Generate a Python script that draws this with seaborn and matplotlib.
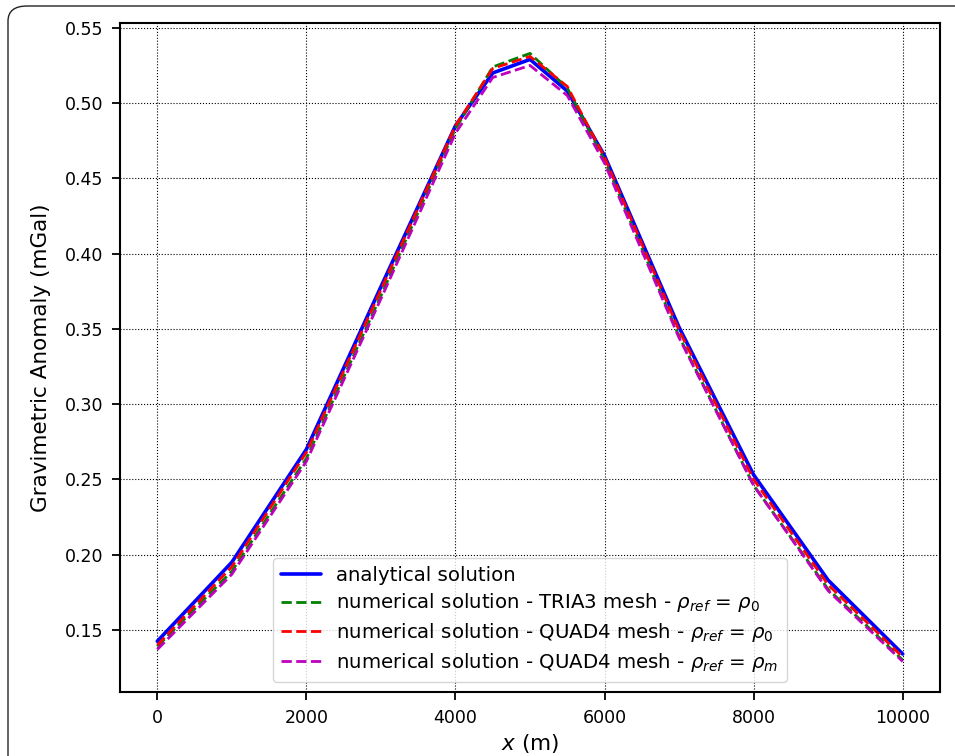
import matplotlib
matplotlib.use('Agg')
import matplotlib.pyplot as plt
from matplotlib.patches import FancyBboxPatch
import seaborn as sns
import pandas as pd

# 数据
x_m = [0, 1000, 2000, 3000, 4000, 4500, 5000, 5500, 6000, 7000, 8000, 9000, 10000]
analytical = [0.1425, 0.195, 0.270, 0.378, 0.485, 0.520, 0.529, 0.508, 0.465, 0.351, 0.253, 0.183, 0.134]
tria3_rho0 = [0.139, 0.189, 0.264, 0.372, 0.483, 0.524, 0.533, 0.510, 0.462, 0.345, 0.246, 0.177, 0.130]
quad4_rho0 = [0.140, 0.192, 0.268, 0.376, 0.485, 0.523, 0.531, 0.511, 0.464, 0.349, 0.250, 0.180, 0.132]
quad4_rhom = [0.137, 0.187, 0.262, 0.370, 0.480, 0.517, 0.525, 0.505, 0.460, 0.344, 0.246, 0.176, 0.129]

labels = [
    'analytical solution',
    r'numerical solution - TRIA3 mesh - $\rho_{ref}$ = $\rho_0$',
    r'numerical solution - QUAD4 mesh - $\rho_{ref}$ = $\rho_0$',
    r'numerical solution - QUAD4 mesh - $\rho_{ref}$ = $\rho_m$',
]
series = [analytical, tria3_rho0, quad4_rho0, quad4_rhom]
colors = ['blue', 'green', 'red', 'm']
styles = ['-', '--', '--', '--']
widths = [2.6, 2.0, 2.0, 2.0]

sns.set_style('white')
plt.rcParams['font.family'] = ['DejaVu Sans']
plt.rcParams['text.color'] = 'black'
plt.rcParams['axes.labelcolor'] = 'black'
plt.rcParams['xtick.color'] = 'black'
plt.rcParams['ytick.color'] = 'black'

fig = plt.figure(figsize=(9.55, 7.56), dpi=100)
ax = fig.add_axes([0.1257, 0.0847, 0.9843 - 0.1257, 0.9696 - 0.0847])

# 外框 (圆角)
frame = FancyBboxPatch((8 / 955, -0.05), 1.2, 1.05 - 6 / 756,
                       boxstyle='round,pad=0,rounding_size=0.02',
                       transform=fig.transFigure, fill=False,
                       edgecolor='#222222', linewidth=1.0, clip_on=False)
fig.patches.append(frame)

for ys, lab, c, ls, lw in zip(series, labels, colors, styles, widths):
    df = pd.DataFrame({'x': x_m, 'y': ys})
    sns.lineplot(data=df, x='x', y='y', ax=ax, color=c, linestyle=ls,
                 linewidth=lw, label=lab)

ax.set_xticks([0, 2000, 4000, 6000, 8000, 10000])
ax.set_yticks([0.15, 0.20, 0.25, 0.30, 0.35, 0.40, 0.45, 0.50, 0.55])
ax.set_yticklabels([f'{v:.2f}' for v in ax.get_yticks()])
ax.tick_params(axis='both', labelsize=12.5, direction='out', length=6, width=1.3,
               pad=6, bottom=True, left=True, colors='black')
ax.grid(True, linestyle=':', color='black', linewidth=0.8)
for s in ax.spines.values():
    s.set_linewidth(1.5)
    s.set_color('black')

ax.set_xlabel('$x$ (m)', fontsize=15.5, labelpad=4)
ax.set_ylabel('Gravimetric Anomaly (mGal)', fontsize=15.5, labelpad=10)

leg = ax.legend(loc='lower center', bbox_to_anchor=(0.5, 0.0), fontsize=14.2,
                frameon=True, handlelength=2.0, labelspacing=0.35)
leg.get_frame().set_edgecolor('#cccccc')

fig.savefig('out.png', dpi=100)
